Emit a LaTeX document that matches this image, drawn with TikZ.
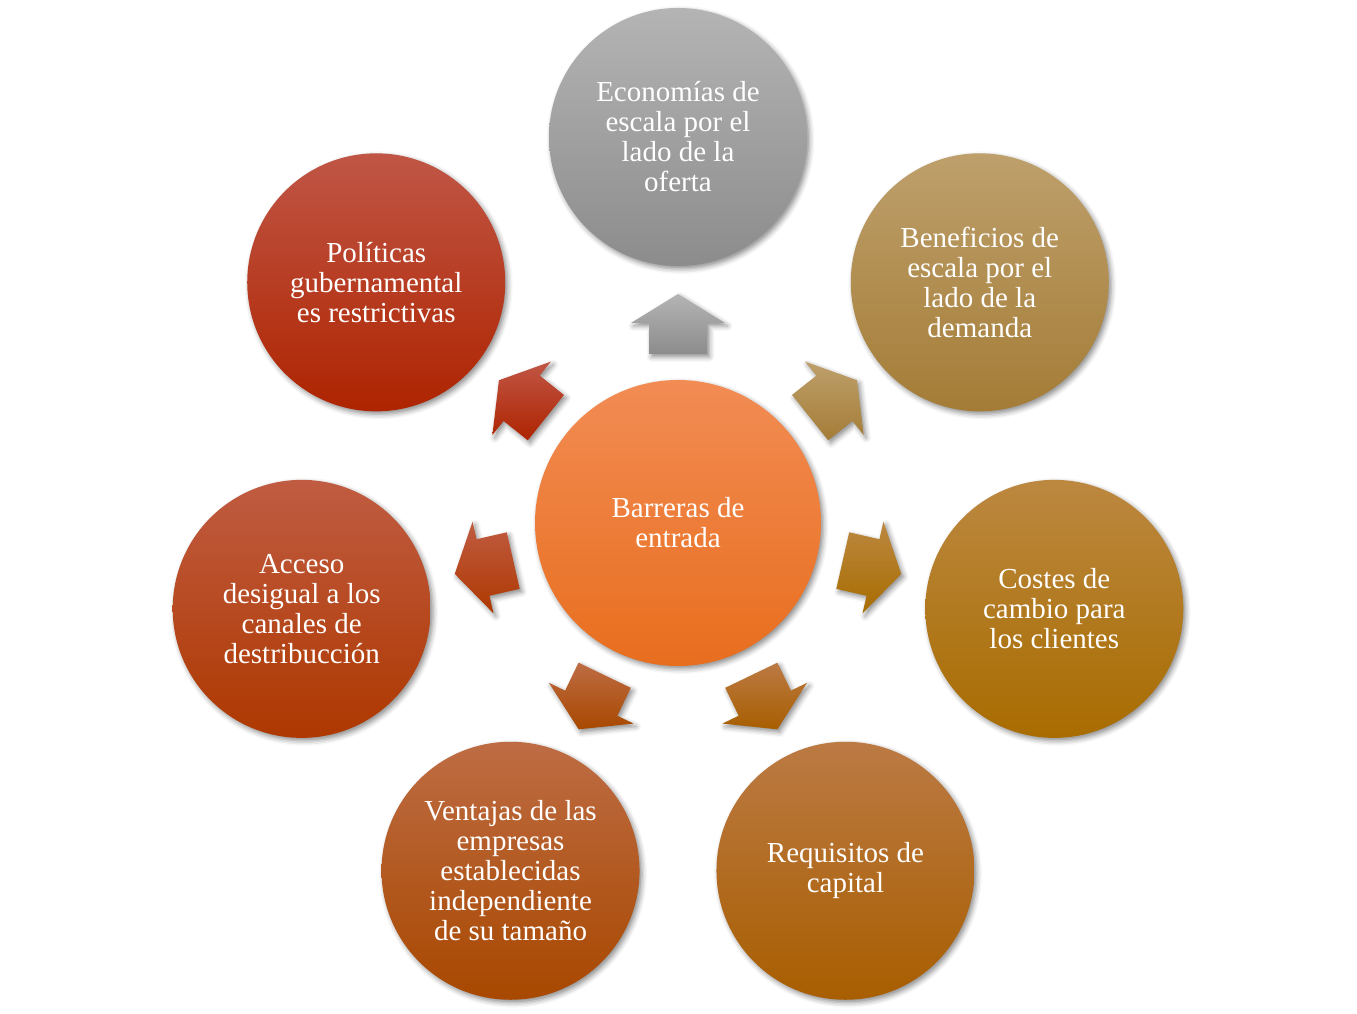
\documentclass[tikz,border=0pt]{standalone}
\usepackage{fontspec}
\setmainfont{Liberation Serif}
\usetikzlibrary{calc,shadows.blur}
\definecolor{grT}{HTML}{B4B4B4}\definecolor{grM}{HTML}{9E9E9E}\definecolor{grB}{HTML}{8C8C8C}
\definecolor{beT}{HTML}{BEA06C}\definecolor{beM}{HTML}{B08C4C}\definecolor{beB}{HTML}{A47C36}
\definecolor{coT}{HTML}{BC8840}\definecolor{coM}{HTML}{B07808}\definecolor{coB}{HTML}{A86C00}
\definecolor{reT}{HTML}{BC7A44}\definecolor{reM}{HTML}{B06A10}\definecolor{reB}{HTML}{A85E00}
\definecolor{veT}{HTML}{BE6C44}\definecolor{veM}{HTML}{B25010}\definecolor{veB}{HTML}{A84800}
\definecolor{acT}{HTML}{C05C42}\definecolor{acM}{HTML}{B43E08}\definecolor{acB}{HTML}{AE3800}
\definecolor{poT}{HTML}{C05646}\definecolor{poM}{HTML}{B8320A}\definecolor{poB}{HTML}{AE2400}
\definecolor{ceT}{HTML}{F28C54}\definecolor{ceM}{HTML}{EE7A30}\definecolor{ceB}{HTML}{E86E1E}
\newcommand\blockarrow[4]{%
  \path[arrowshade, top color=#2, middle color=#3, bottom color=#4]
    ($(c)+(#1:169)+(#1-90:29)$) -- ($(c)+(#1:200)+(#1-90:29)$) --
    ($(c)+(#1:200)+(#1-90:47)$) -- ($(c)+(#1:229)$) --
    ($(c)+(#1:200)+(#1+90:47)$) -- ($(c)+(#1:200)+(#1+90:29)$) --
    ($(c)+(#1:169)+(#1+90:29)$) -- cycle;}
\begin{document}
\begin{tikzpicture}[x=1pt,y=1pt,
  softshadow/.style={blur shadow={shadow xshift=2.5pt,shadow yshift=-3pt,shadow blur radius=5pt,shadow opacity=45}},
  bubble/.style={circle, minimum size=258pt, inner sep=0pt, align=center, text=white,
    font=\fontsize{29}{30}\selectfont, softshadow},
  hub/.style={bubble, minimum size=286pt},
  arrowshade/.style={softshadow}]
\useasboundingbox (0,0) rectangle (1357,1013);
\node[hub, top color=ceT, middle color=ceM, bottom color=ceB] (c) at (678,490) {Barreras de\\entrada};
\node[bubble, top color=grT, middle color=grM, bottom color=grB] (o1) at ($(c)+(90:386)$) {Economías de\\escala por el\\lado de la\\oferta};
\node[bubble, top color=beT, middle color=beM, bottom color=beB] (o2) at ($(c)+(38.571:386)$) {Beneficios de\\escala por el\\lado de la\\demanda};
\node[bubble, top color=coT, middle color=coM, bottom color=coB] (o3) at ($(c)+(-12.857:386)$) {Costes de\\cambio para\\los clientes};
\node[bubble, top color=reT, middle color=reM, bottom color=reB] (o4) at ($(c)+(-64.286:386)$) {Requisitos de\\capital};
\node[bubble, top color=veT, middle color=veM, bottom color=veB] (o5) at ($(c)+(-115.714:386)$) {Ventajas de las\\empresas\\establecidas\\independiente\\de su tamaño};
\node[bubble, top color=acT, middle color=acM, bottom color=acB] (o6) at ($(c)+(-167.143:386)$) {Acceso\\desigual a los\\canales de\\destribucción};
\node[bubble, top color=poT, middle color=poM, bottom color=poB] (o7) at ($(c)+(141.429:386)$) {Políticas\\gubernamental\\es restrictivas};
\blockarrow{90}{grT}{grM}{grB}
\blockarrow{38.571}{beT}{beM}{beB}
\blockarrow{-12.857}{coT}{coM}{coB}
\blockarrow{-64.286}{reT}{reM}{reB}
\blockarrow{-115.714}{veT}{veM}{veB}
\blockarrow{-167.143}{acT}{acM}{acB}
\blockarrow{141.429}{poT}{poM}{poB}
\end{tikzpicture}
\end{document}
